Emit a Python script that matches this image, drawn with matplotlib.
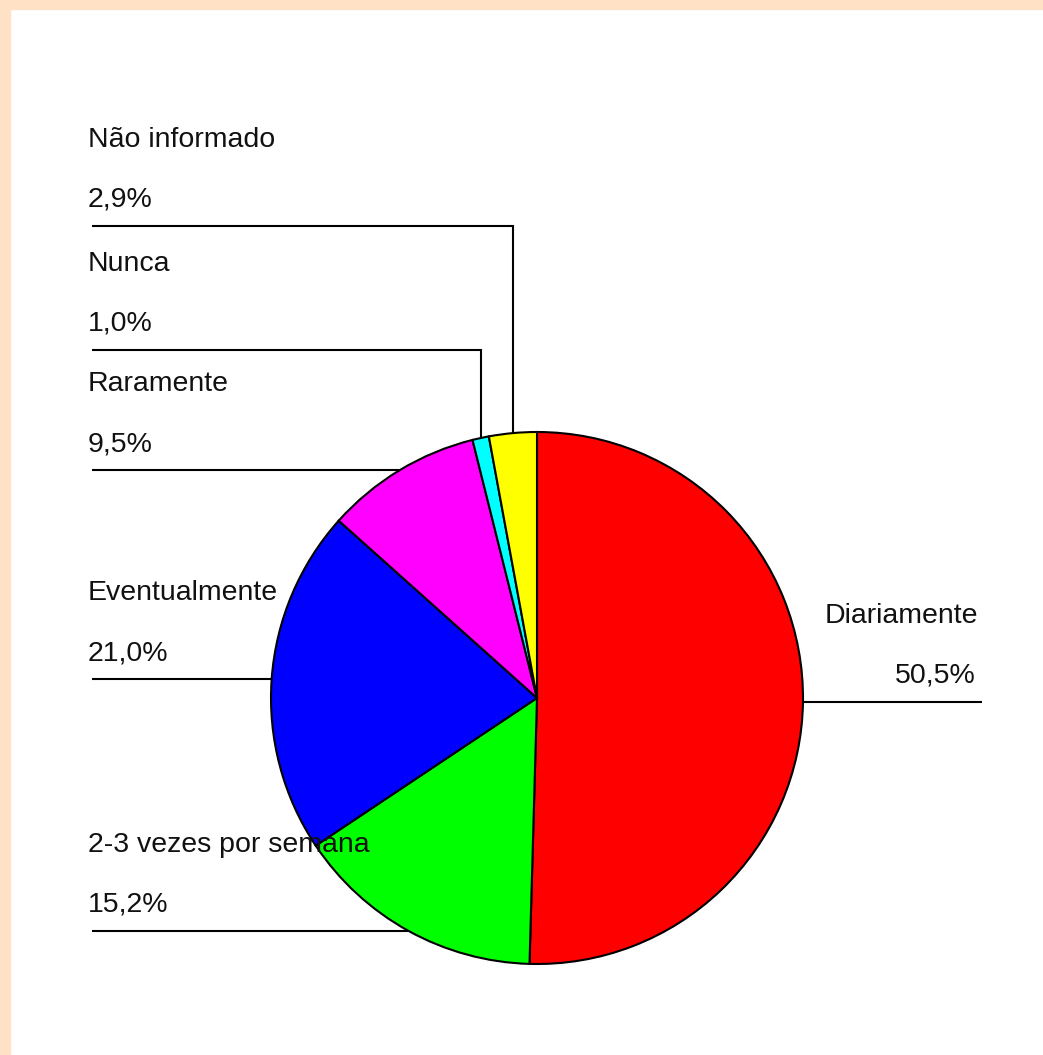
import numpy as np
import matplotlib
matplotlib.use("Agg")
import matplotlib.pyplot as plt
from matplotlib.patches import Rectangle

# dados do gráfico
categorias = ["Diariamente", "2-3 vezes por semana", "Eventualmente",
              "Raramente", "Nunca", "Não informado"]
valores = [50.5, 15.2, 21.0, 9.5, 1.0, 2.9]
cores = ["#FF0000", "#00FF00", "#0000FF", "#FF00FF", "#00FFFF", "#FFFF00"]

# layout (pixels)
W, H = 1043, 1055
cx, cy, raio = 537, 698, 266
x_esq = 92          # início das linhas à esquerda
x_texto = 88
x_dir = 982         # fim da linha da direita
cotovelo = {"Nunca": 350, "Não informado": 226}   # linhas com dobra
fonte = dict(family=["Liberation Sans", "DejaVu Sans"], fontsize=20.5, color="#111111")

fig = plt.figure(figsize=(W / 100, H / 100), dpi=100, facecolor="white")
# faixa cor de pêssego (topo e esquerda)
pessego = "#FFE1C6"
fig.add_artist(Rectangle((0, 1 - 9 / H), 1, 9 / H, transform=fig.transFigure,
                         color=pessego, zorder=0))
fig.add_artist(Rectangle((0, 0), 10 / W, 1, transform=fig.transFigure,
                         color=pessego, zorder=0))

ax = fig.add_axes([0, 0, 1, 1])
ax.patch.set_alpha(0)

wedges, _ = ax.pie(valores, colors=cores, startangle=-90, counterclock=True,
                   center=(cx, cy), radius=raio,
                   wedgeprops=dict(edgecolor="black", linewidth=1.5))
ax.set_xlim(0, W)
ax.set_ylim(H, 0)
ax.set_aspect("equal")
ax.axis("off")

for w, nome, v in zip(wedges, categorias, valores):
    ang = np.deg2rad((w.theta1 + w.theta2) / 2)
    px = cx + raio * np.cos(ang)
    py = cy + raio * np.sin(ang)
    pct = f"{v:.1f}".replace(".", ",") + "%"
    if px > cx + raio * 0.9:
        # rótulo à direita
        ax.plot([px, x_dir], [py, py], color="black", lw=1.5, solid_capstyle="butt")
        ax.text(978, py - 79, nome, ha="right", va="baseline", **fonte)
        ax.text(976, py - 19, pct, ha="right", va="baseline", **fonte)
        continue
    if nome in cotovelo:
        ly = cotovelo[nome]
        ax.plot([px, px, x_esq], [py, ly, ly], color="black", lw=1.5,
                solid_joinstyle="miter", solid_capstyle="butt")
    else:
        ly = py
        ax.plot([px, x_esq], [py, py], color="black", lw=1.5, solid_capstyle="butt")
    ax.text(x_texto, ly - 79, nome, ha="left", va="baseline", **fonte)
    ax.text(x_texto, ly - 19, pct, ha="left", va="baseline", **fonte)

plt.savefig("out.png", dpi=100, facecolor=fig.get_facecolor())
